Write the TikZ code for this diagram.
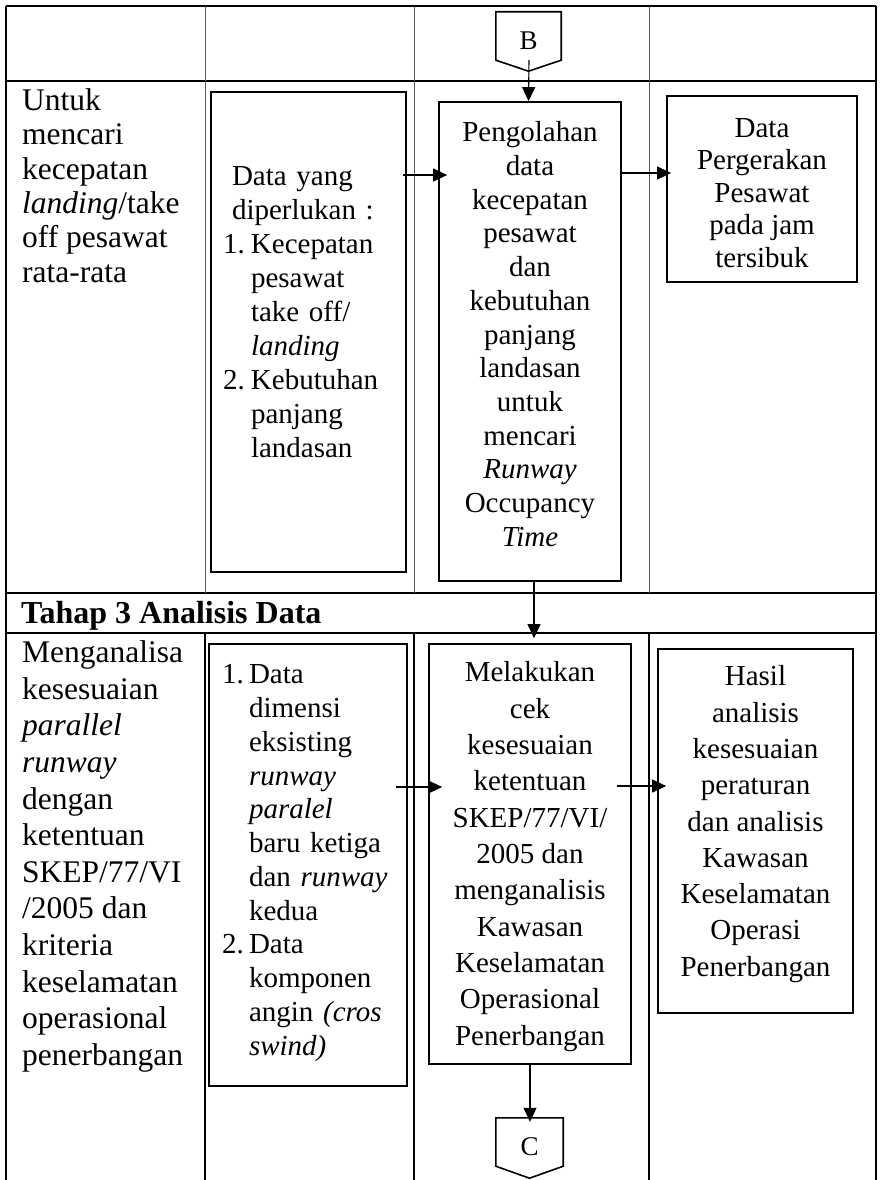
\documentclass[tikz,border=0pt]{standalone}
\usepackage{fontspec}
\setmainfont{Liberation Serif}
\usetikzlibrary{arrows.meta,calc}
\newcommand\tp[1]{\rule{0pt}{#1}}
\newcommand\bt[1]{\rule[-#1]{0pt}{#1}}
\begin{document}
\begin{tikzpicture}[x=1pt,y=-1pt,
  tline/.style={line width=1.6pt},
  colline/.style={line width=0.9pt, draw=black!65},
  box/.style={draw, line width=1.7pt, inner sep=0pt, align=center},
  databox/.style={draw, line width=2pt, inner sep=0pt, align=left},
  arr/.style={line width=1.1pt, -{Triangle[length=14pt,width=13pt]}},
  conn/.style={draw=none, inner sep=0pt, font=\fontsize{27}{30}\selectfont},
  pent/.style={line width=1.6pt},
  lefttxt/.style={anchor=north west, inner sep=0pt, align=left}
]
\useasboundingbox (0,0) rectangle (881,1180);

% table
\draw[tline] (6,6) -- (876,6);
\draw[tline] (6,81) -- (876,81);
\draw[tline] (6,593) -- (876,593);
\draw[tline] (6,633) -- (876,633);
\draw[line width=1.2pt] (6,6) -- (6,1180);
\draw[tline] (876,6) -- (876,1180);
\foreach \x in {205,414,649} {
  \draw[colline] (\x,6) -- (\x,593);
  \draw[tline] (\x,633) -- (\x,1180);
}

% row 2
\node[lefttxt, font=\fontsize{31.5}{34.4}\selectfont] (l2) at (22,86) {\tp{24pt}Untuk\\mencari\\kecepatan\\\textit{landing}/take\\off pesawat\\rata-rata};

\node[databox, font=\fontsize{29}{33.9}\selectfont, text width=171, minimum width=195, minimum height=480] (data1) at (308.5,332)
 {\tp{20pt}\hspace*{9pt}Data yang\\
  \hspace*{9pt}diperlukan :\\
  \makebox[28pt][l]{1.}Kecepatan\\
  \hspace*{28pt}pesawat\\
  \hspace*{28pt}take off/\\
  \hspace*{28pt}\textit{landing}\\
  \makebox[28pt][l]{2.}Kebutuhan\\
  \hspace*{28pt}panjang\\
  \hspace*{28pt}landasan\bt{41pt}};

\node[box, font=\fontsize{29}{33.67}\selectfont, minimum width=182, minimum height=479] (peng) at (530,341.5)
 {\tp{22pt}Pengolahan\\data\\kecepatan\\pesawat\\dan\\kebutuhan\\panjang\\landasan\\untuk\\mencari\\\textit{Runway}\\Occupancy\\\textit{Time}\bt{17pt}};

\node[box, font=\fontsize{29}{32.5}\selectfont, minimum width=190, minimum height=186] (gerak) at (762,189)
 {\tp{33pt}Data\\Pergerakan\\Pesawat\\pada jam\\tersibuk\bt{7pt}};

% stage header
\node[anchor=base west, inner sep=0pt, font=\bfseries\fontsize{32}{36}\selectfont] (tahap) at (21,623) {Tahap 3 Analisis Data};

% row 3
\node[lefttxt, font=\fontsize{31.5}{36.6}\selectfont] (l3) at (22,638.4) {\tp{24pt}Menganalisa\\kesesuaian\\\textit{parallel}\\\textit{runway}\\dengan\\ketentuan\\SKEP/77/VI\\/2005 dan\\kriteria\\keselamatan\\operasional\\penerbangan};

\node[databox, font=\fontsize{29}{33.76}\selectfont, text width=172, minimum width=198, minimum height=442] (data2) at (308,865)
 {\tp{29pt}\makebox[27pt][l]{1.}Data\\
  \hspace*{27pt}dimensi\\
  \hspace*{27pt}eksisting\\
  \hspace*{27pt}\textit{runway}\\
  \hspace*{27pt}\textit{paralel}\\
  \hspace*{27pt}baru ketiga\\
  \hspace*{27pt}dan \textit{runway}\\
  \hspace*{27pt}kedua\\
  \makebox[27pt][l]{2.}Data\\
  \hspace*{27pt}komponen\\
  \hspace*{27pt}angin \textit{(cros}\\
  \hspace*{27pt}\textit{swind)}\bt{20pt}};

\node[box, font=\fontsize{29}{36.37}\selectfont, minimum width=202, minimum height=420] (melak) at (530,854)
 {\tp{26pt}Melakukan\\cek\\kesesuaian\\ketentuan\\SKEP/77/VI/\\2005 dan\\menganalisis\\Kawasan\\Keselamatan\\Operasional\\Penerbangan\bt{7pt}};

\node[box, font=\fontsize{29}{36.3}\selectfont, minimum width=195, minimum height=364] (hasil) at (755.5,831)
 {\tp{20pt}Hasil\\analisis\\kesesuaian\\peraturan\\dan analisis\\Kawasan\\Keselamatan\\Operasi\\Penerbangan\bt{20pt}};

% off-page connectors
\node[conn, minimum width=65, minimum height=48] (B) at (528.5,36) {\tp{27pt}B};
\coordinate (Btip) at ($(B.south)+(0,11)$);
\draw[pent] (B.north west) -- (B.north east) -- (B.south east) -- (Btip) -- (B.south west) -- cycle;

\node[conn, minimum width=67, minimum height=48] (C) at (529.5,1142) {\tp{28pt}C};
\coordinate (Ctip) at ($(C.south)+(0,12)$);
\draw[pent] (C.north west) -- (C.north east) -- (C.south east) -- (Ctip) -- (C.south west) -- cycle;

% arrows
\draw[arr] ($(B.south)+(0.5,0)$) -- (Btip |- peng.north);
\draw[arr] ($(data1.east |- 0,175)+(-4,0)$) -- ($(peng.west |- 0,175)+(9,0)$);
\draw[arr] (peng.east |- 0,173) -- ($(gerak.west |- 0,173)+(5,0)$);
\draw[arr] ($(peng.south)+(4,0)$) -- ($(melak.north)+(4,-5)$);
\draw[arr] ($(data2.east |- 0,787)+(-12,0)$) -- ($(melak.west |- 0,787)+(14,0)$);
\draw[arr] ($(melak.east |- 0,786)+(-15,0)$) -- ($(hasil.west |- 0,786)+(9,0)$);
\draw[arr] (melak.south) -- ($(melak.south |- C.north)+(0,4)$);
\end{tikzpicture}
\end{document}
